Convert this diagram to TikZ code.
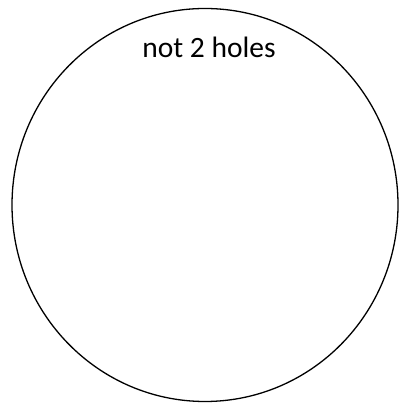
\documentclass[tikz,border=0pt]{standalone}
\usepackage{fontspec}
\setmainfont{Carlito}
\usepackage{tikz}

\begin{document}
\begin{tikzpicture}[x=1pt, y=1pt]

    % Marges
    \useasboundingbox (0,0) rectangle (400,403);

    % Contorn
    \draw[
        line width=1.3pt,
        black
    ] (205,198) ellipse (193 and 196.5);

    % Etiqueta
    \node[font=\fontsize{29.5}{34}\selectfont] (etiq) at (209,356) {not 2 holes};

\end{tikzpicture}
\end{document}
